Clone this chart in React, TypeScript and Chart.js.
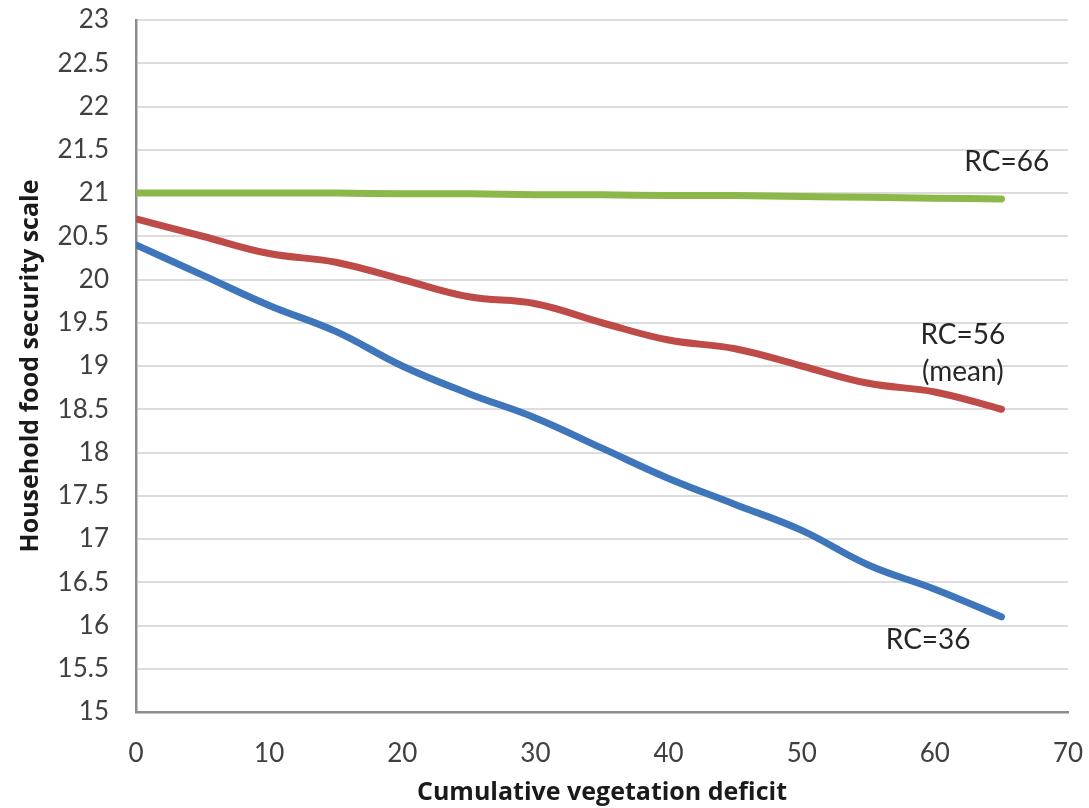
import React, { useEffect, useRef } from "react";
import { Chart, registerables } from "chart.js";

Chart.register(...registerables);

const deficit = [0, 5, 10, 15, 20, 25, 30, 35, 40, 45, 50, 55, 60, 65];
const rc66 = [21.0, 21.0, 21.0, 21.0, 20.99, 20.99, 20.98, 20.98, 20.97, 20.97, 20.96, 20.95, 20.94, 20.93];
const rc56 = [20.7, 20.5, 20.3, 20.2, 20.0, 19.8, 19.72, 19.5, 19.3, 19.2, 19.0, 18.8, 18.7, 18.5];
const rc36 = [20.4, 20.05, 19.7, 19.4, 19.0, 18.68, 18.4, 18.05, 17.7, 17.4, 17.1, 16.7, 16.42, 16.1];

const seriesNames = ["RC=66", "RC=56 (mean)", "RC=36"];
const labelTexts = [["RC=66"], ["RC=56", "(mean)"], ["RC=36"]];
const labelX = [65.4, 62.1, 59.5];
const labelY = [21.36, 19.36, 15.83];

const xTicks = { min: 0, max: 70, step: 10 };
const yTicks = { min: 15, max: 23, step: 0.5 };

const FONT = "Lato, 'Open Sans', sans-serif";
const TITLE_FONT = "'Open Sans', Lato, sans-serif";

const labelPlugin = {
  id: "seriesLabels",
  afterDatasetsDraw(chart: any) {
    const { ctx, scales } = chart;
    ctx.save();
    ctx.font = `28px ${FONT}`;
    ctx.fillStyle = "#262626";
    ctx.textAlign = "center";
    ctx.textBaseline = "middle";
    labelTexts.forEach((lines, i) => {
      const px = scales.x.getPixelForValue(labelX[i]);
      const py = scales.y.getPixelForValue(labelY[i]);
      lines.forEach((t, j) => {
        ctx.fillText(t, px, py + j * 37);
      });
    });
    ctx.restore();
  },
};

export default function App() {
  const ref = useRef<HTMLCanvasElement | null>(null);
  useEffect(() => {
    if (!ref.current) return;
    const colors = ["#8cb84a", "#be4b48", "#3f75bb"];
    const series = [rc66, rc56, rc36];
    const chart = new Chart(ref.current, {
      type: "line",
      data: {
        datasets: series.map((s, i) => ({
          label: seriesNames[i],
          data: deficit.map((x, k) => ({ x, y: s[k] })),
          borderColor: colors[i],
          backgroundColor: colors[i],
          borderWidth: 7,
          borderCapStyle: "round" as const,
          borderJoinStyle: "round" as const,
          pointRadius: 0,
          tension: 0.4,
          fill: false,
        })),
      },
      options: {
        animation: false,
        responsive: true,
        maintainAspectRatio: false,
        layout: { padding: { left: 0, right: 21, top: 20, bottom: 0 } },
        plugins: { legend: { display: false }, tooltip: { enabled: false } },
        scales: {
          x: {
            type: "linear",
            min: xTicks.min,
            max: xTicks.max,
            afterFit(scale: any) {
              scale.height = 96;
            },
            ticks: {
              stepSize: xTicks.step,
              color: "#404040",
              font: { family: FONT, size: 26 },
              padding: 0,
              callback: (v: any) => String(v),
            },
            grid: {
              display: true,
              drawOnChartArea: false,
              drawTicks: true,
              tickLength: 26,
              tickColor: "rgba(0,0,0,0)",
              color: "rgba(0,0,0,0)",
            },
            border: { display: true, color: "#8c8c8c", width: 2.5 },
            title: {
              display: true,
              text: "Cumulative vegetation deficit",
              color: "#1a1a1a",
              font: { family: TITLE_FONT, size: 25, weight: "bold" },
              padding: { top: 0, bottom: 0 },
            },
          },
          y: {
            type: "linear",
            min: yTicks.min,
            max: yTicks.max,
            afterFit(scale: any) {
              scale.width = 136;
            },
            ticks: {
              stepSize: yTicks.step,
              color: "#404040",
              font: { family: FONT, size: 26 },
              padding: 0,
              callback: (v: any) => String(v),
            },
            grid: {
              color: "#dcdcdc",
              lineWidth: 2,
              drawTicks: true,
              tickLength: 27,
              tickColor: "rgba(0,0,0,0)",
            },
            border: { display: true, color: "#8c8c8c", width: 2.5 },
            title: {
              display: true,
              text: "Household food security scale",
              color: "#1a1a1a",
              font: { family: TITLE_FONT, size: 25, weight: "bold" },
              padding: { top: 16, bottom: 0 },
            },
          },
        },
      },
      plugins: [labelPlugin],
    });
    return () => chart.destroy();
  }, []);

  return (
    <div style={{ position: "absolute", left: 0, top: 0, width: 1089, height: 808, background: "#fff" }}>
      <canvas ref={ref} />
    </div>
  );
}
